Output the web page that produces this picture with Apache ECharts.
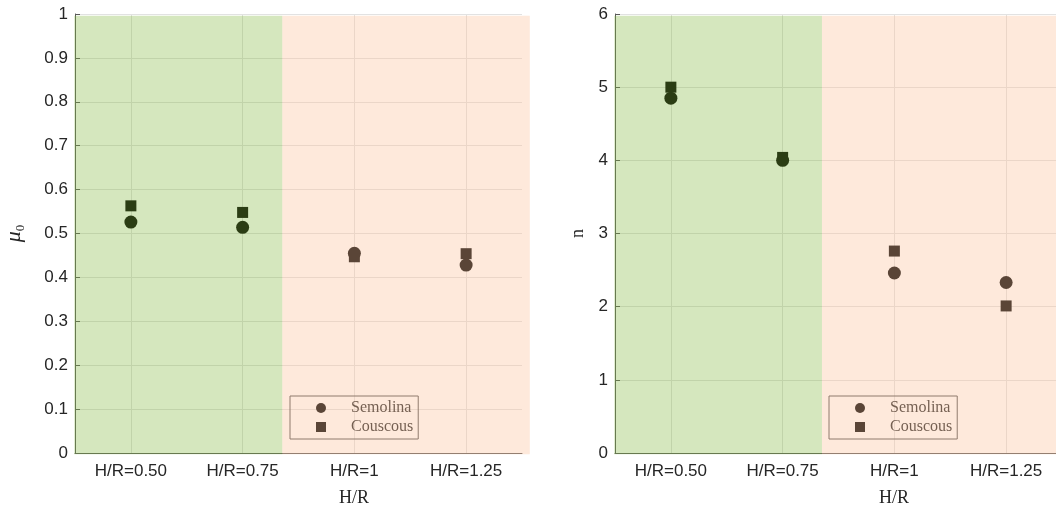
<!DOCTYPE html>
<html>
<head>
<meta charset="utf-8">
<script src="https://cdn.jsdelivr.net/npm/echarts@6/dist/echarts.min.js"></script>
<style>
html,body{margin:0;padding:0;background:#fff;}
#c{width:1056px;height:507px;}
</style>
</head>
<body>
<div id="c"></div>
<script>
const categories = ['H/R=0.50', 'H/R=0.75', 'H/R=1', 'H/R=1.25'];
const mu0Semolina = [0.526, 0.514, 0.455, 0.428];
const mu0Couscous = [0.563, 0.548, 0.447, 0.454];
const nSemolina = [4.85, 4.00, 2.46, 2.33];
const nCouscous = [5.00, 4.04, 2.76, 2.01];
const mu0Ticks = [0, 0.1, 0.2, 0.3, 0.4, 0.5, 0.6, 0.7, 0.8, 0.9, 1];
const nTicks = [0, 1, 2, 3, 4, 5, 6];
// shaded regions: [xStart, xEnd, yStart, yEnd] in axis units (category width = 1)
const mu0Regions = [[-0.006, 1.855, -0.003, 0.996], [1.855, 4.07, -0.003, 0.996]];
const nRegions = [[-0.006, 1.852, -0.018, 5.976], [1.852, 4.3, -0.018, 5.976]];

const GREEN = 'rgba(128,182,60,0.335)';
const ORANGE = 'rgba(251,194,155,0.355)';
const regionColors = [GREEN, ORANGE];

const chart = echarts.init(document.getElementById('c'), null, {renderer: 'canvas'});

const labelFont = {fontFamily: '"Liberation Sans", Arial, sans-serif', fontSize: 17, color: '#262626'};
const AXIS_COLOR = '#5a5a5a';

function catAxis(gi) {
  return {
    type: 'category', gridIndex: gi, data: categories, boundaryGap: true,
    axisLine: {show: true, lineStyle: {color: AXIS_COLOR, width: 1}},
    axisTick: {show: true, inside: true, alignWithLabel: true, length: 5, lineStyle: {color: AXIS_COLOR}},
    axisLabel: Object.assign({margin: 10}, labelFont),
    splitLine: {show: false},
    name: 'H/R', nameLocation: 'middle', nameGap: 36,
    nameTextStyle: {fontFamily: '"Liberation Serif", "Times New Roman", serif', fontSize: 18, color: '#262626', padding: [0, 0, 0, 111]}
  };
}
function hiddenAxis(gi) {
  return {type: 'value', gridIndex: gi, min: 0, max: 4, show: false};
}
function valAxis(gi, max, interval, name, nameGap, nameStyle) {
  return {
    type: 'value', gridIndex: gi, min: 0, max: max, interval: interval,
    axisLine: {show: true, lineStyle: {color: AXIS_COLOR, width: 1}},
    axisTick: {show: true, inside: true, length: 5, lineStyle: {color: AXIS_COLOR}},
    axisLabel: Object.assign({margin: 7}, labelFont),
    splitLine: {show: true, lineStyle: {color: '#e2e2e2', width: 1}},
    name: name, nameLocation: 'middle', nameGap: nameGap, nameTextStyle: nameStyle
  };
}

function patchSeries(xi, yi, regions) {
  return {
    type: 'custom', xAxisIndex: xi, yAxisIndex: yi, z: 10, silent: true, clip: false,
    encode: {x: [0, 1], y: [2, 3]},
    data: regions,
    renderItem: function (params, api) {
      const p0 = api.coord([api.value(0), api.value(3)]);
      const p1 = api.coord([api.value(1), api.value(2)]);
      return {
        type: 'rect',
        shape: {x: p0[0], y: p0[1], width: p1[0] - p0[0], height: p1[1] - p0[1]},
        style: {fill: regionColors[params.dataIndex]}
      };
    }
  };
}

function gridLineSeries(xi, yi) {
  return {
    type: 'line', xAxisIndex: xi, yAxisIndex: yi, data: [], z: 1, silent: true,
    markLine: {
      silent: true, symbol: 'none', label: {show: false}, z: 1,
      lineStyle: {color: '#e2e2e2', width: 1, type: 'solid'},
      data: categories.map(c => ({xAxis: c}))
    }
  };
}

function scatter(name, xi, yi, values, symbol, size) {
  return {
    name: name, type: 'scatter', xAxisIndex: xi, yAxisIndex: yi,
    symbol: symbol, symbolSize: size, z: 6,
    itemStyle: {color: '#000', opacity: 1},
    data: values
  };
}

function legend(left) {
  return {
    left: left, top: 396, orient: 'vertical',
    data: [{name: 'Semolina', icon: 'circle'}, {name: 'Couscous', icon: 'rect'}],
    itemWidth: 10, itemHeight: 10, itemGap: 3,
    padding: [4, 5, 4, 26],
    borderColor: '#555', borderWidth: 1, backgroundColor: 'transparent',
    selectedMode: false,
    formatter: n => '{g|}' + n,
    textStyle: {
      fontFamily: '"Liberation Serif", "Times New Roman", serif', fontSize: 16, color: '#2a2a2a', lineHeight: 16,
      rich: {g: {width: 20}}
    }
  };
}

const option = {
  animation: false,
  backgroundColor: '#fff',
  grid: [
    {left: 75, top: 14, width: 447, height: 439, containLabel: false, outerBoundsMode: 'none'},
    {left: 615, top: 14, width: 447, height: 439, containLabel: false, outerBoundsMode: 'none'}
  ],
  xAxis: [catAxis(0), hiddenAxis(0), catAxis(1), hiddenAxis(1)],
  yAxis: [
    valAxis(0, 1, 0.1, '{m|μ}{s|0}', 48, {
      color: '#262626',
      rich: {
        m: {fontFamily: '"Liberation Serif", "Times New Roman", serif', fontStyle: 'italic', fontSize: 22, lineHeight: 26, verticalAlign: 'middle', color: '#262626'},
        s: {fontFamily: '"Liberation Serif", "Times New Roman", serif', fontSize: 13, lineHeight: 13, verticalAlign: 'bottom', color: '#262626'}
      }
    }),
    valAxis(1, 6, 1, 'n', 28, {fontFamily: '"Liberation Serif", "Times New Roman", serif', fontSize: 18, color: '#262626'})
  ],
  legend: [legend(290), legend(829)],
  series: [
    gridLineSeries(0, 0),
    gridLineSeries(2, 1),
    scatter('Semolina', 0, 0, mu0Semolina, 'circle', 13),
    scatter('Couscous', 0, 0, mu0Couscous, 'rect', 11),
    scatter('Semolina', 2, 1, nSemolina, 'circle', 13),
    scatter('Couscous', 2, 1, nCouscous, 'rect', 11),
    patchSeries(1, 0, mu0Regions),
    patchSeries(3, 1, nRegions)
  ]
};
chart.setOption(option);
</script>
</body>
</html>
